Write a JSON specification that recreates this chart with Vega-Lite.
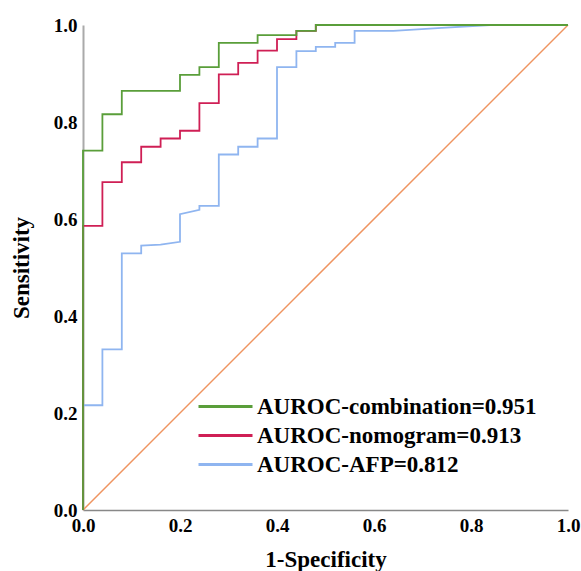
{
  "$schema": "https://vega.github.io/schema/vega-lite/v6.json",
  "width": 485,
  "height": 485,
  "autosize": {"type": "none"},
  "padding": {"left": 83, "top": 25, "right": 13, "bottom": 61},
  "background": "white",
  "config": {
    "view": {"stroke": null},
    "font": "Liberation Serif"
  },
  "datasets": {
    "roc": [
      {"series": "AUROC-AFP=0.812", "o": 0, "fpr": 0, "tpr": 0},
      {"series": "AUROC-AFP=0.812", "o": 1, "fpr": 0, "tpr": 0.216},
      {"series": "AUROC-AFP=0.812", "o": 2, "fpr": 0.04, "tpr": 0.216},
      {"series": "AUROC-AFP=0.812", "o": 3, "fpr": 0.04, "tpr": 0.331},
      {"series": "AUROC-AFP=0.812", "o": 4, "fpr": 0.08, "tpr": 0.331},
      {"series": "AUROC-AFP=0.812", "o": 5, "fpr": 0.08, "tpr": 0.529},
      {"series": "AUROC-AFP=0.812", "o": 6, "fpr": 0.12, "tpr": 0.529},
      {"series": "AUROC-AFP=0.812", "o": 7, "fpr": 0.12, "tpr": 0.545},
      {"series": "AUROC-AFP=0.812", "o": 8, "fpr": 0.16, "tpr": 0.547},
      {"series": "AUROC-AFP=0.812", "o": 9, "fpr": 0.2, "tpr": 0.553},
      {"series": "AUROC-AFP=0.812", "o": 10, "fpr": 0.2, "tpr": 0.61},
      {"series": "AUROC-AFP=0.812", "o": 11, "fpr": 0.24, "tpr": 0.619},
      {"series": "AUROC-AFP=0.812", "o": 12, "fpr": 0.24, "tpr": 0.627},
      {"series": "AUROC-AFP=0.812", "o": 13, "fpr": 0.28, "tpr": 0.627},
      {"series": "AUROC-AFP=0.812", "o": 14, "fpr": 0.28, "tpr": 0.733},
      {"series": "AUROC-AFP=0.812", "o": 15, "fpr": 0.32, "tpr": 0.733},
      {"series": "AUROC-AFP=0.812", "o": 16, "fpr": 0.32, "tpr": 0.749},
      {"series": "AUROC-AFP=0.812", "o": 17, "fpr": 0.36, "tpr": 0.749},
      {"series": "AUROC-AFP=0.812", "o": 18, "fpr": 0.36, "tpr": 0.766},
      {"series": "AUROC-AFP=0.812", "o": 19, "fpr": 0.4, "tpr": 0.766},
      {"series": "AUROC-AFP=0.812", "o": 20, "fpr": 0.4, "tpr": 0.913},
      {"series": "AUROC-AFP=0.812", "o": 21, "fpr": 0.44, "tpr": 0.913},
      {"series": "AUROC-AFP=0.812", "o": 22, "fpr": 0.44, "tpr": 0.946},
      {"series": "AUROC-AFP=0.812", "o": 23, "fpr": 0.48, "tpr": 0.946},
      {"series": "AUROC-AFP=0.812", "o": 24, "fpr": 0.48, "tpr": 0.955},
      {"series": "AUROC-AFP=0.812", "o": 25, "fpr": 0.52, "tpr": 0.955},
      {"series": "AUROC-AFP=0.812", "o": 26, "fpr": 0.52, "tpr": 0.963},
      {"series": "AUROC-AFP=0.812", "o": 27, "fpr": 0.56, "tpr": 0.963},
      {"series": "AUROC-AFP=0.812", "o": 28, "fpr": 0.56, "tpr": 0.988},
      {"series": "AUROC-AFP=0.812", "o": 29, "fpr": 0.64, "tpr": 0.988},
      {"series": "AUROC-AFP=0.812", "o": 30, "fpr": 0.74, "tpr": 0.994},
      {"series": "AUROC-AFP=0.812", "o": 31, "fpr": 0.84, "tpr": 1.0},
      {"series": "AUROC-AFP=0.812", "o": 32, "fpr": 1.0, "tpr": 1.0},

      {"series": "AUROC-nomogram=0.913", "o": 0, "fpr": 0, "tpr": 0},
      {"series": "AUROC-nomogram=0.913", "o": 1, "fpr": 0, "tpr": 0.586},
      {"series": "AUROC-nomogram=0.913", "o": 2, "fpr": 0.04, "tpr": 0.586},
      {"series": "AUROC-nomogram=0.913", "o": 3, "fpr": 0.04, "tpr": 0.676},
      {"series": "AUROC-nomogram=0.913", "o": 4, "fpr": 0.08, "tpr": 0.676},
      {"series": "AUROC-nomogram=0.913", "o": 5, "fpr": 0.08, "tpr": 0.717},
      {"series": "AUROC-nomogram=0.913", "o": 6, "fpr": 0.12, "tpr": 0.717},
      {"series": "AUROC-nomogram=0.913", "o": 7, "fpr": 0.12, "tpr": 0.749},
      {"series": "AUROC-nomogram=0.913", "o": 8, "fpr": 0.16, "tpr": 0.749},
      {"series": "AUROC-nomogram=0.913", "o": 9, "fpr": 0.16, "tpr": 0.766},
      {"series": "AUROC-nomogram=0.913", "o": 10, "fpr": 0.2, "tpr": 0.766},
      {"series": "AUROC-nomogram=0.913", "o": 11, "fpr": 0.2, "tpr": 0.782},
      {"series": "AUROC-nomogram=0.913", "o": 12, "fpr": 0.24, "tpr": 0.782},
      {"series": "AUROC-nomogram=0.913", "o": 13, "fpr": 0.24, "tpr": 0.839},
      {"series": "AUROC-nomogram=0.913", "o": 14, "fpr": 0.28, "tpr": 0.839},
      {"series": "AUROC-nomogram=0.913", "o": 15, "fpr": 0.28, "tpr": 0.898},
      {"series": "AUROC-nomogram=0.913", "o": 16, "fpr": 0.32, "tpr": 0.898},
      {"series": "AUROC-nomogram=0.913", "o": 17, "fpr": 0.32, "tpr": 0.922},
      {"series": "AUROC-nomogram=0.913", "o": 18, "fpr": 0.36, "tpr": 0.922},
      {"series": "AUROC-nomogram=0.913", "o": 19, "fpr": 0.36, "tpr": 0.947},
      {"series": "AUROC-nomogram=0.913", "o": 20, "fpr": 0.4, "tpr": 0.947},
      {"series": "AUROC-nomogram=0.913", "o": 21, "fpr": 0.4, "tpr": 0.971},
      {"series": "AUROC-nomogram=0.913", "o": 22, "fpr": 0.44, "tpr": 0.971},
      {"series": "AUROC-nomogram=0.913", "o": 23, "fpr": 0.44, "tpr": 0.988},
      {"series": "AUROC-nomogram=0.913", "o": 24, "fpr": 0.48, "tpr": 0.988},
      {"series": "AUROC-nomogram=0.913", "o": 25, "fpr": 0.48, "tpr": 1.0},
      {"series": "AUROC-nomogram=0.913", "o": 26, "fpr": 1.0, "tpr": 1.0},

      {"series": "AUROC-combination=0.951", "o": 0, "fpr": 0, "tpr": 0},
      {"series": "AUROC-combination=0.951", "o": 1, "fpr": 0, "tpr": 0.741},
      {"series": "AUROC-combination=0.951", "o": 2, "fpr": 0.04, "tpr": 0.741},
      {"series": "AUROC-combination=0.951", "o": 3, "fpr": 0.04, "tpr": 0.816},
      {"series": "AUROC-combination=0.951", "o": 4, "fpr": 0.08, "tpr": 0.816},
      {"series": "AUROC-combination=0.951", "o": 5, "fpr": 0.08, "tpr": 0.864},
      {"series": "AUROC-combination=0.951", "o": 6, "fpr": 0.2, "tpr": 0.864},
      {"series": "AUROC-combination=0.951", "o": 7, "fpr": 0.2, "tpr": 0.897},
      {"series": "AUROC-combination=0.951", "o": 8, "fpr": 0.24, "tpr": 0.897},
      {"series": "AUROC-combination=0.951", "o": 9, "fpr": 0.24, "tpr": 0.913},
      {"series": "AUROC-combination=0.951", "o": 10, "fpr": 0.28, "tpr": 0.913},
      {"series": "AUROC-combination=0.951", "o": 11, "fpr": 0.28, "tpr": 0.963},
      {"series": "AUROC-combination=0.951", "o": 12, "fpr": 0.36, "tpr": 0.963},
      {"series": "AUROC-combination=0.951", "o": 13, "fpr": 0.36, "tpr": 0.979},
      {"series": "AUROC-combination=0.951", "o": 14, "fpr": 0.44, "tpr": 0.979},
      {"series": "AUROC-combination=0.951", "o": 15, "fpr": 0.44, "tpr": 0.988},
      {"series": "AUROC-combination=0.951", "o": 16, "fpr": 0.48, "tpr": 0.988},
      {"series": "AUROC-combination=0.951", "o": 17, "fpr": 0.48, "tpr": 1.0},
      {"series": "AUROC-combination=0.951", "o": 18, "fpr": 1.0, "tpr": 1.0}
    ],
    "ref": [
      {"fpr": 0, "tpr": 0},
      {"fpr": 1, "tpr": 1}
    ]
  },
  "layer": [
    {
      "data": {"name": "ref"},
      "mark": {"type": "line", "color": "#ef9460", "strokeWidth": 1.5},
      "encoding": {
        "x": {"field": "fpr", "type": "quantitative"},
        "y": {"field": "tpr", "type": "quantitative"}
      }
    },
    {
      "data": {"name": "roc"},
      "mark": {"type": "line", "strokeWidth": 1.8},
      "encoding": {
        "x": {
          "field": "fpr", "type": "quantitative",
          "scale": {"domain": [0, 1], "nice": false},
          "axis": {
            "title": "1-Specificity", "values": [0, 0.2, 0.4, 0.6, 0.8, 1.0], "format": ".1f",
            "grid": false, "ticks": false, "domainColor": "#888888", "domainWidth": 1.5,
            "labelFont": "Liberation Serif", "labelFontWeight": "bold", "labelFontSize": 19, "labelColor": "#000000",
            "labelPadding": 6, "labelFlush": false,
            "titleFont": "Liberation Serif", "titleFontWeight": "bold", "titleFontSize": 23, "titleColor": "#000000",
            "titlePadding": 13
          }
        },
        "y": {
          "field": "tpr", "type": "quantitative",
          "scale": {"domain": [0, 1], "nice": false},
          "axis": {
            "title": "Sensitivity", "values": [0, 0.2, 0.4, 0.6, 0.8, 1.0], "format": ".1f",
            "grid": false, "ticks": false, "domainColor": "#aaaaaa", "domainWidth": 2,
            "labelFont": "Liberation Serif", "labelFontWeight": "bold", "labelFontSize": 19, "labelColor": "#000000",
            "labelPadding": 6, "labelFlush": false,
            "titleFont": "Liberation Serif", "titleFontWeight": "bold", "titleFontSize": 23, "titleColor": "#000000",
            "titlePadding": 20
          }
        },
        "color": {
          "field": "series", "type": "nominal",
          "scale": {
            "domain": ["AUROC-combination=0.951", "AUROC-nomogram=0.913", "AUROC-AFP=0.812"],
            "range": ["#5a9e3a", "#cf1f55", "#8fb5f0"]
          },
          "legend": {
            "title": null, "orient": "none", "legendX": 113, "legendY": 370,
            "symbolType": "M-1,0H5", "symbolSize": 324, "symbolStrokeWidth": 3,
            "labelFont": "Liberation Serif", "labelFontWeight": "bold", "labelFontSize": 23, "labelColor": "#000000",
            "labelOffset": 38, "rowPadding": 5, "padding": 0, "labelLimit": 450
          }
        },
        "order": {"field": "o", "type": "quantitative"}
      }
    }
  ]
}
